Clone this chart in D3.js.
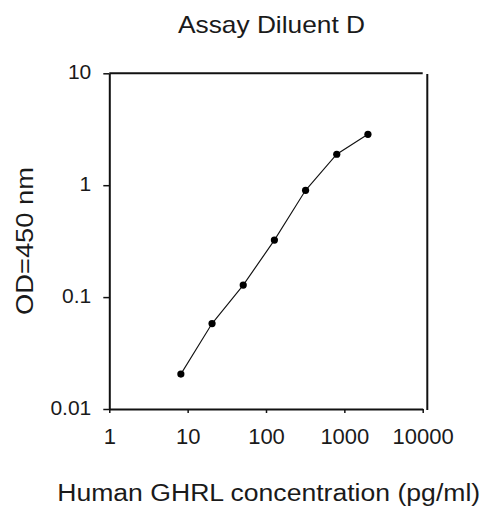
<!DOCTYPE html>
<html>
<head>
<meta charset="utf-8">
<script src="https://cdn.jsdelivr.net/npm/d3@7"></script>
<style>
  html, body { margin: 0; padding: 0; background: #fff; }
  svg { display: block; }
  text { font-family: "Liberation Sans", Arial, sans-serif; fill: #1a1a1a; }
</style>
</head>
<body>
<svg id="chart" width="483" height="511"></svg>
<script>
// Data
const concentration = [8.192, 20.48, 51.2, 128, 320, 800, 2000];   // pg/ml
const od450 = [0.0205, 0.058, 0.128, 0.323, 0.90, 1.89, 2.85];
const xTicks = [1, 10, 100, 1000, 10000];
const yTicks = [0.01, 0.1, 1, 10];
const xTickLabels = ["1", "10", "100", "1000", "10000"];
const yTickLabels = ["0.01", "0.1", "1", "10"];
const titleText = "Assay Diluent D";
const xLabelText = "Human GHRL concentration (pg/ml)";
const yLabelText = "OD=450 nm";

const svg = d3.select("#chart");
const plotL = 109.3, plotR = 422.7, plotT = 73.3, plotB = 409;

const x = d3.scaleLog().domain([1, 10000]).range([plotL, plotR]);
const y = d3.scaleLog().domain([0.01, 10]).range([plotB, plotT]);

// X axis
const xAxis = d3.axisBottom(x)
  .tickValues(xTicks)
  .tickFormat((d, i) => xTickLabels[i])
  .tickSize(4).tickSizeOuter(0).tickPadding(15);
const gx = svg.append("g").attr("transform", `translate(0,${plotB})`).call(xAxis);
gx.select(".domain").attr("stroke", "#111").attr("stroke-width", 2);
gx.selectAll(".tick line").attr("stroke", "#111").attr("stroke-width", 1.5);
gx.selectAll(".tick text").style("font-size", "22px").attr("fill", "#1a1a1a");

// Y axis
const yAxis = d3.axisLeft(y)
  .tickValues(yTicks)
  .tickFormat((d, i) => yTickLabels[i])
  .tickSize(6).tickSizeOuter(0).tickPadding(12);
const gy = svg.append("g").attr("transform", `translate(${plotL},0)`).call(yAxis);
gy.select(".domain").attr("stroke", "#111").attr("stroke-width", 2);
gy.selectAll(".tick line").attr("stroke", "#111").attr("stroke-width", 1.5);
gy.selectAll(".tick text").style("font-size", "21px").attr("dy", "0.25em").attr("fill", "#1a1a1a");

// Frame: top and right lines (right line slightly offset, as in the reference)
svg.append("line")
  .attr("x1", plotL).attr("x2", plotR)
  .attr("y1", plotT).attr("y2", plotT)
  .attr("stroke", "#111").attr("stroke-width", 2);
svg.append("line")
  .attr("x1", plotR + 4.6).attr("x2", plotR + 4.6)
  .attr("y1", plotT + 0.7).attr("y2", plotB + 1)
  .attr("stroke", "#111").attr("stroke-width", 2);

// Data line
const pts = concentration.map((c, i) => [c, od450[i]]);
svg.append("path")
  .datum(pts)
  .attr("fill", "none")
  .attr("stroke", "#111")
  .attr("stroke-width", 1.1)
  .attr("d", d3.line().x(d => x(d[0])).y(d => y(d[1])));

svg.selectAll("circle.pt")
  .data(pts)
  .enter().append("circle")
  .attr("class", "pt")
  .attr("cx", d => x(d[0]))
  .attr("cy", d => y(d[1]))
  .attr("r", 3.6)
  .attr("fill", "#000");

// Title
svg.append("text")
  .attr("x", 271.5).attr("y", 33)
  .attr("text-anchor", "middle")
  .attr("textLength", 187).attr("lengthAdjust", "spacingAndGlyphs")
  .style("font-size", "24px")
  .text(titleText);

// X label
svg.append("text")
  .attr("x", 268.7).attr("y", 500.7)
  .attr("text-anchor", "middle")
  .attr("textLength", 423).attr("lengthAdjust", "spacingAndGlyphs")
  .style("font-size", "23px")
  .text(xLabelText);

// Y label
svg.append("text")
  .attr("transform", "translate(33,241) rotate(-90)")
  .attr("text-anchor", "middle")
  .attr("textLength", 148).attr("lengthAdjust", "spacingAndGlyphs")
  .style("font-size", "23px")
  .text(yLabelText);
</script>
</body>
</html>
